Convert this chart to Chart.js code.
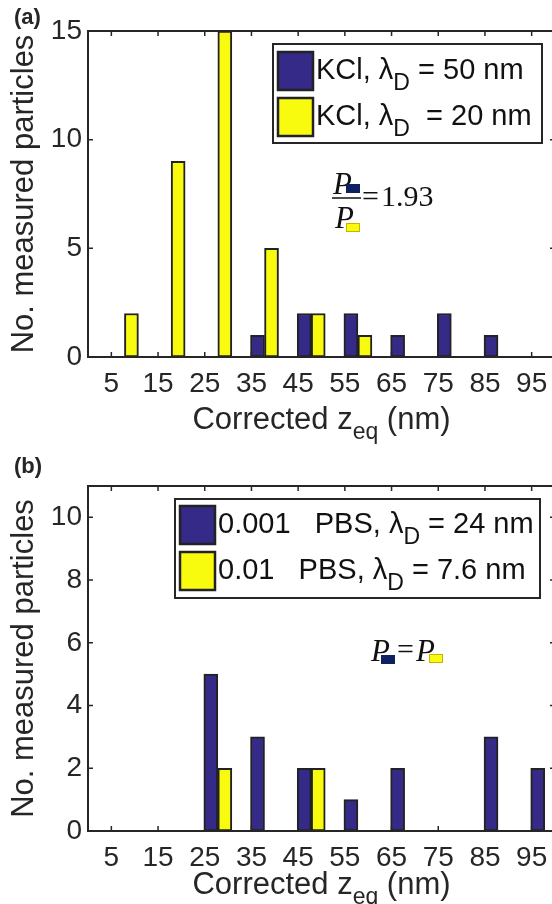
<!DOCTYPE html>
<html>
<head>
<meta charset="utf-8">
<script src="https://cdn.jsdelivr.net/npm/chart.js@4.4.1/dist/chart.umd.min.js"></script>
<style>
  html, body { margin: 0; padding: 0; background: #fff; overflow: hidden; }
  body { width: 552px; height: 904px; position: relative; }
  canvas { position: absolute; left: 0; }
  #chartA { top: 0; }
  #chartB { top: 450px; }
</style>
</head>
<body>
<canvas id="chartA" width="560" height="450"></canvas>
<canvas id="chartB" width="560" height="454"></canvas>
<script>
// bin labels on the x axis (nm)
const bins = [5, 15, 25, 35, 45, 55, 65, 75, 85, 95];

// (a) KCl
const kcl50 = [0, 0, 0, 1, 2, 2, 1, 2, 1, 0];
const kcl20 = [2, 9, 15, 5, 2, 1, 0, 0, 0, 0];
const yTicksA = [0, 5, 10, 15];

// (b) PBS
const pbs001 = [0, 0, 5, 3, 2, 1, 2, 0, 3, 2];
const pbs01 = [0, 0, 2, 0, 2, 0, 0, 0, 0, 0];
const yTicksB = [0, 2, 4, 6, 8, 10];

// legend text: [before subscript, subscript, after]
const legendA = [["KCl, \u03bb", "D", " = 50 nm"], ["KCl, \u03bb", "D", "  = 20 nm"]];
const legendB = [["0.001   PBS, \u03bb", "D", " = 24 nm"], ["0.01   PBS, \u03bb", "D", " = 7.6 nm"]];

const BLUE = "#352a87";
const YELLOW = "#f9fb0e";
const EDGE = "#222222";
const AXIS = "#262626";
const SANS = '"Liberation Sans", Arial, sans-serif';
const SERIF = '"Liberation Serif", "Times New Roman", serif';

Chart.defaults.font.family = SANS;
Chart.defaults.color = AXIS;

function drawRich(ctx, parts, x, y, size, subSize, subDy, align) {
  // parts: [text, isSub]
  ctx.textBaseline = "middle";
  ctx.textAlign = "left";
  let w = 0;
  parts.forEach(([t, sub]) => {
    ctx.font = (sub ? subSize : size) + "px " + SANS;
    w += ctx.measureText(t).width;
  });
  let cx = align === "center" ? x - w / 2 : x;
  parts.forEach(([t, sub]) => {
    ctx.font = (sub ? subSize : size) + "px " + SANS;
    ctx.fillText(t, cx, sub ? y + subDy : y);
    cx += ctx.measureText(t).width;
  });
}

const framePlugin = {
  id: "frame",
  afterDatasetsDraw(chart, args, opts) {
    const { ctx, chartArea: a, scales: { x, y } } = chart;
    ctx.save();
    ctx.strokeStyle = AXIS;
    ctx.lineWidth = 2;
    ctx.strokeRect(a.left, a.top, a.right - a.left, a.bottom - a.top);
    ctx.lineWidth = 1.5;
    ctx.beginPath();
    x.ticks.forEach(t => {
      const px = x.getPixelForValue(t.value);
      ctx.moveTo(px, a.bottom); ctx.lineTo(px, a.bottom - 5);
      ctx.moveTo(px, a.top); ctx.lineTo(px, a.top + 5);
    });
    y.ticks.forEach(t => {
      const py = y.getPixelForValue(t.value);
      ctx.moveTo(a.left, py); ctx.lineTo(a.left + 5, py);
      ctx.moveTo(a.right, py); ctx.lineTo(a.right - 5, py);
    });
    ctx.stroke();
    ctx.restore();
  },
  afterDraw(chart, args, opts) {
    const { ctx, chartArea: a } = chart;
    ctx.save();
    ctx.fillStyle = AXIS;
    // x axis title with subscript
    drawRich(ctx, [["Corrected z", false], ["eq", true], [" (nm)", false]],
      (a.left + a.right) / 2, opts.xTitleY, 31, 23, 13, "center");
    // panel label
    ctx.font = "bold 22px " + SANS;
    ctx.textBaseline = "middle";
    ctx.fillText(opts.panel, 14, opts.panelY);
    // legend
    const L = opts.legend;
    ctx.fillStyle = "#fff";
    ctx.fillRect(L.x, L.y, L.w, L.h);
    ctx.strokeStyle = AXIS;
    ctx.lineWidth = 2;
    ctx.strokeRect(L.x, L.y, L.w, L.h);
    chart.data.datasets.forEach((ds, i) => {
      const sy = L.rows[i];
      ctx.fillStyle = ds.backgroundColor;
      ctx.fillRect(L.x + 5, sy - 19, 35, 38);
      ctx.strokeStyle = EDGE;
      ctx.lineWidth = 2.5;
      ctx.strokeRect(L.x + 5, sy - 19, 35, 38);
      ctx.fillStyle = "#111";
      const p = opts.labels[i];
      drawRich(ctx, [[p[0], false], [p[1], true], [p[2], false]], L.x + 43, sy, 29, 23, 13, "left");
    });
    opts.note(ctx);
    ctx.restore();
  }
};

function pSymbol(ctx, x, baseline, color, edge, sx, sy) {
  ctx.font = "italic 31px " + SERIF;
  ctx.textBaseline = "alphabetic";
  ctx.textAlign = "left";
  ctx.fillStyle = "#111";
  ctx.fillText("P", x, baseline);
  ctx.fillStyle = color;
  ctx.fillRect(sx, sy, 14, 9);
  ctx.strokeStyle = edge;
  ctx.lineWidth = 1;
  ctx.strokeRect(sx + 0.5, sy + 0.5, 13, 8);
}

function makeChart(id, s1, s2, yMax, yTicks, padTop, xAxisH, opts) {
  const series = [s1, s2];
  const shift = [1.3, 4.3];
  const colors = [BLUE, YELLOW];
  return new Chart(document.getElementById(id), {
    type: "bar",
    data: {
      datasets: series.map((s, k) => ({
        label: opts.labels[k].join(""),
        data: bins.map((b, i) => ({ x: b + shift[k], y: s[i] })).filter(p => p.y > 0),
        backgroundColor: colors[k],
        borderColor: EDGE,
        borderWidth: 2,
        borderSkipped: false,
        barThickness: 14,
        grouped: false
      }))
    },
    options: {
      responsive: false,
      animation: false,
      devicePixelRatio: 1,
      layout: { padding: { top: padTop, right: 5, left: 0, bottom: 0 } },
      plugins: { legend: { display: false }, tooltip: { enabled: false }, frame: opts },
      scales: {
        x: {
          type: "linear", min: 0, max: 100, offset: false,
          afterBuildTicks: sc => { sc.ticks = bins.map(v => ({ value: v })); },
          afterFit: sc => { sc.height = xAxisH; },
          grid: { display: false, drawTicks: false },
          border: { display: false },
          ticks: { font: { size: 28 }, color: AXIS, padding: 10, maxRotation: 0, autoSkip: false }
        },
        y: {
          min: 0, max: yMax,
          afterBuildTicks: sc => { sc.ticks = yTicks.map(v => ({ value: v })); },
          afterFit: sc => { sc.width = 88; },
          grid: { display: false, drawTicks: false },
          border: { display: false },
          ticks: { font: { size: 28 }, color: AXIS, padding: 6 },
          title: { display: true, text: "No. measured particles", font: { size: 31 }, color: AXIS, padding: { top: 6, bottom: 0 } }
        }
      }
    },
    plugins: [framePlugin]
  });
}

makeChart("chartA", kcl50, kcl20, 15, yTicksA, 31, 93, {
  panel: "(a)", panelY: 18, xTitleY: 420, labels: legendA,
  legend: { x: 273, y: 44, w: 269, h: 99, rows: [71, 117] },
  note(ctx) {
    pSymbol(ctx, 333, 194, "#0d2060", "#0d2060", 346, 184);
    ctx.strokeStyle = "#111";
    ctx.lineWidth = 1.5;
    ctx.beginPath(); ctx.moveTo(332, 198); ctx.lineTo(361, 198); ctx.stroke();
    pSymbol(ctx, 335, 228, YELLOW, "#c8b400", 346, 223);
    ctx.font = "30px " + SERIF;
    ctx.fillStyle = "#111";
    ctx.textBaseline = "middle";
    ctx.fillText("=", 362, 198);
    ctx.fillText("1.93", 381, 198);
  }
});

makeChart("chartB", pbs001, pbs01, 11, yTicksB, 36, 73, {
  panel: "(b)", panelY: 17, xTitleY: 435, labels: legendB,
  legend: { x: 175, y: 49, w: 365, h: 99, rows: [75, 121] },
  note(ctx) {
    pSymbol(ctx, 371, 211, "#0d2060", "#0d2060", 381, 205);
    ctx.font = "30px " + SERIF;
    ctx.fillStyle = "#111";
    ctx.textBaseline = "middle";
    ctx.fillText("=", 397, 201);
    pSymbol(ctx, 416, 211, YELLOW, "#c8b400", 429, 204);
  }
});
</script>
</body>
</html>
